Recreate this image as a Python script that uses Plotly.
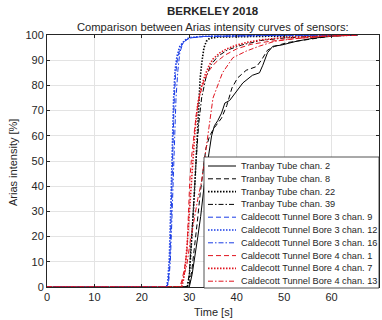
import plotly.graph_objects as go

# ---------------- data ----------------
names = [
    "Tranbay Tube chan. 2", "Tranbay Tube chan. 8", "Tranbay Tube chan. 22", "Tranbay Tube chan. 39",
    "Caldecott Tunnel Bore 3 chan. 9", "Caldecott Tunnel Bore 3 chan. 12", "Caldecott Tunnel Bore 3 chan. 16",
    "Caldecott Tunnel Bore 4 chan. 1", "Caldecott Tunnel Bore 4 chan. 7", "Caldecott Tunnel Bore 4 chan. 13",
]

t_tt2 = [0, 30.0, 30.6, 31.2, 31.8, 32.4, 32.9, 33.3, 33.9, 34.7, 35.3, 36.0, 36.8, 37.5, 38.5, 40.0, 41.3, 43.3, 44.8, 45.5, 46.5, 47.6, 49.4, 52.8, 56.4, 60.6, 65.5]
v_tt2 = [0, 0, 5, 12, 20, 28, 36, 43, 50, 60, 64, 66, 69, 73, 74, 78, 81, 84, 85, 88, 93, 95.5, 96, 97.6, 98.8, 99.6, 100]

t_tt8 = [0, 29.9, 30.5, 31.1, 31.7, 32.3, 32.9, 33.5, 34.3, 35.2, 36.0, 36.8, 37.9, 39.0, 40.2, 42.0, 44.2, 45.2, 46.5, 48.0, 50.7, 54.0, 60.0, 65.5]
v_tt8 = [0, 0, 6, 15, 26, 37, 47, 55, 60, 63, 65, 67, 72, 79, 83, 86, 87.5, 90, 94, 95.5, 97, 98, 99.6, 100]

t_tt22 = [0, 29.6, 30.0, 30.4, 30.8, 31.2, 31.6, 31.9, 32.3, 32.7, 33.1, 33.6, 34.3, 36.0, 45.0, 55.0, 65.5]
v_tt22 = [0, 0, 4, 14, 28, 42, 58, 72, 83, 90, 95, 97.5, 98.7, 99.2, 99.5, 99.8, 100]

t_tt39 = [0, 29.5, 30.0, 30.5, 31.0, 31.5, 32.0, 32.6, 33.5, 34.5, 36.0, 38.0, 41.0, 45.0, 50.0, 57.0, 65.5]
v_tt39 = [0, 0, 5, 18, 35, 52, 65, 75, 83, 88, 91.5, 94, 96, 97.8, 98.8, 99.6, 100]

t_b3c9 = [0, 25.3, 25.6, 25.9, 26.1, 26.3, 26.5, 26.8, 27.1, 27.5, 28.1, 29.0, 30.0, 33.0, 45.0, 65.5]
v_b3c9 = [0, 0, 3, 11, 23, 40, 56, 73, 84, 90.5, 95, 97.5, 98.8, 99.4, 99.8, 100]

t_b3c12 = [0, 25.2, 25.5, 25.8, 26.0, 26.2, 26.4, 26.7, 27.0, 27.4, 28.0, 29.0, 30.0, 33.0, 45.0, 65.5]
v_b3c12 = [0, 0, 3, 12, 25, 42, 58, 75, 86, 91.5, 95.5, 97.8, 99, 99.5, 99.8, 100]

t_b3c16 = [0, 25.4, 25.7, 26.0, 26.3, 26.6, 26.8, 27.2, 27.6, 28.0, 28.7, 29.5, 30.5, 33.0, 45.0, 65.5]
v_b3c16 = [0, 0, 3, 10, 25, 45, 58, 75, 86, 93, 97, 98.2, 98.9, 99.4, 99.8, 100]

t_b4c1 = [0, 28.0, 28.5, 29.0, 29.5, 29.8, 30.1, 30.5, 31.0, 31.5, 32.2, 33.0, 34.0, 35.5, 37.5, 40.0, 43.0, 47.0, 52.0, 58.0, 65.5]
v_b4c1 = [0, 0, 3, 7.5, 14, 28, 42, 52, 61, 69, 76, 81, 85.5, 89, 92, 94.5, 96.3, 97.5, 98.5, 99.4, 100]

t_b4c7 = [0, 28.4, 28.8, 29.2, 29.6, 30.0, 30.4, 30.8, 31.2, 31.8, 32.5, 33.3, 34.2, 35.0, 36.5, 37.9, 40.0, 42.0, 44.8, 50.0, 58.0, 65.5]
v_b4c7 = [0, 0, 3, 9, 18, 30, 42, 52, 62, 73, 79, 84, 88, 90.5, 93, 94.5, 96, 97, 98, 99, 99.6, 100]

t_b4c13 = [0, 28.2, 28.8, 29.5, 30.2, 31.0, 31.8, 32.6, 33.5, 34.3, 35.0, 37.0, 39.2, 42.0, 44.8, 48.0, 52.0, 58.0, 65.5]
v_b4c13 = [0, 0, 4, 9, 18, 27, 35, 42, 55, 65, 75, 85, 91, 93.6, 95.6, 97.5, 98.5, 99.5, 100]

times = [t_tt2, t_tt8, t_tt22, t_tt39, t_b3c9, t_b3c12, t_b3c16, t_b4c1, t_b4c7, t_b4c13]
values = [v_tt2, v_tt8, v_tt22, v_tt39, v_b3c9, v_b3c12, v_b3c16, v_b4c1, v_b4c7, v_b4c13]

x_ticks = [0, 10, 20, 30, 40, 50, 60, 70]
y_ticks = [0, 10, 20, 30, 40, 50, 60, 70, 80, 90, 100]

# ---------------- styles ----------------
BLACK, BLUE, RED = "#000000", "#1a3ce6", "#e0141e"
SOLID, DASH, DOT, DASHDOT = "solid", "5px,3px", "1.5px,1.5px", "5px,2px,1.5px,2px"
colors = [BLACK, BLACK, BLACK, BLACK, BLUE, BLUE, BLUE, RED, RED, RED]
dashes = [SOLID, DASH, DOT, DASHDOT, DASH, DOT, DASHDOT, DASH, DOT, DASHDOT]
widths = [1, 1, 1.6 , 1, 1, 1.6, 1, 1, 1.6, 1]

FONT = "Liberation Sans, Arial, Helvetica, sans-serif"
AX = "#262626"

fig = go.Figure()
for n, t, v, c, d, w in zip(names, times, values, colors, dashes, widths):
    fig.add_trace(go.Scatter(x=t, y=v, mode="lines", name=n,
                             line=dict(color=c, dash=d, width=w), showlegend=False))

# geometry of plot area (px)
L, R, T, B = 47, 3, 35, 33
W, H = 382, 320
PW, PH = W - L - R, H - T - B


def px2x(px):
    return (px - L) / PW


def py2y(py):
    return (H - B - py) / PH


axis_common = dict(showgrid=True, gridcolor="#e3e3e3", gridwidth=1, showline=True,
                   linecolor=AX, linewidth=1, mirror="ticks", ticks="inside", ticklen=3,
                   tickcolor=AX, tickfont=dict(family=FONT, size=11, color=AX), zeroline=False)

fig.update_layout(
    width=W, height=H, margin=dict(l=L, r=R, t=T, b=B),
    paper_bgcolor="white", plot_bgcolor="white",
    font=dict(family=FONT, color=AX),
    xaxis=dict(range=[0, 70], tickvals=x_ticks, **axis_common),
    yaxis=dict(range=[0, 100], tickvals=y_ticks, **axis_common),
)

# manual legend (MATLAB-style compact box)
shapes = [dict(type="rect", xref="paper", yref="paper", layer="above",
               x0=px2x(204), x1=1.0, y0=py2y(288), y1=py2y(157),
               line=dict(color=AX, width=0.8), fillcolor="white")]
annotations = []
for i, (n, c, d, w) in enumerate(zip(names, colors, dashes, widths)):
    yy = py2y(166 + 12.8 * i)
    shapes.append(dict(type="line", xref="paper", yref="paper", layer="above",
                       x0=px2x(208), x1=px2x(236), y0=yy, y1=yy,
                       line=dict(color=c, dash=d, width=w)))
    annotations.append(dict(text=n, xref="paper", yref="paper", x=px2x(239), y=yy,
                            xanchor="left", yanchor="middle", showarrow=False,
                            font=dict(family=FONT, size=9.2, color=AX)))

annotations += [
    dict(text="<b>BERKELEY 2018</b>", xref="paper", yref="paper", x=0.5, y=py2y(11),
         xanchor="center", yanchor="middle", showarrow=False,
         font=dict(family=FONT, size=11.5, color=AX)),
    dict(text="Comparison between Arias intensity curves of sensors:", xref="paper", yref="paper",
         x=0.5, y=py2y(27), xanchor="center", yanchor="middle", showarrow=False,
         font=dict(family=FONT, size=11.2, color=AX)),
    dict(text="Time [s]", xref="paper", yref="paper", x=0.5, y=py2y(312),
         xanchor="center", yanchor="middle", showarrow=False,
         font=dict(family=FONT, size=11, color=AX)),
    dict(text="Arias intensity [%]", xref="paper", yref="paper", x=px2x(13), y=py2y(163),
         xanchor="center", yanchor="middle", showarrow=False, textangle=-90,
         font=dict(family=FONT, size=11, color=AX)),
]

fig.update_layout(shapes=shapes, annotations=annotations)
fig.write_html("out.html")
